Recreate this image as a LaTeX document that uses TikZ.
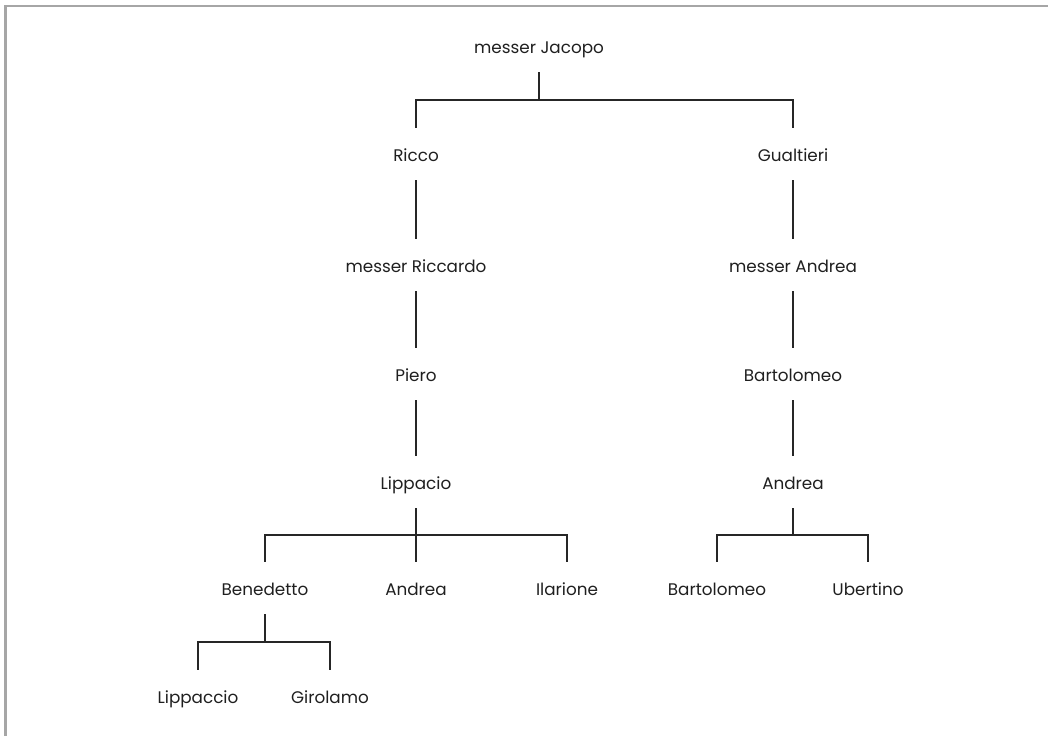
\documentclass[tikz,border=0pt]{standalone}
\usepackage{fontspec}
\setmainfont{Poppins}
\usetikzlibrary{calc}
\begin{document}
\begin{tikzpicture}[x=1pt,y=-1pt,
  person/.style={anchor=base,text height=14pt,text depth=0pt,inner ysep=19pt,inner xsep=0pt,
    font=\fontsize{16.8}{19}\selectfont,text=black!88},
  link/.style={line width=1.3pt,black!85},
  fork/.style={link}]
\useasboundingbox (0,0) rectangle (1048,736);
\draw[line width=2.2pt,black!35] (5.5,736) -- (5.5,6) -- (1048,6);
\node[person] (jacopo) at (539,53) {messer Jacopo};
\node[person] (ricco) at (416,161) {Ricco};
\node[person] (gualtieri) at (793,161) {Gualtieri};
\node[person] (riccardo) at (416,272) {messer Riccardo};
\node[person] (mandrea) at (793,272) {messer Andrea};
\node[person] (piero) at (416,381) {Piero};
\node[person] (bart1) at (793,381) {Bartolomeo};
\node[person] (lippacio) at (416,489) {Lippacio};
\node[person] (andrea1) at (793,489) {Andrea};
\node[person] (benedetto) at (265,595) {Benedetto};
\node[person] (andrea2) at (416,595) {Andrea};
\node[person] (ilarione) at (567,595) {Ilarione};
\node[person] (bart2) at (717,595) {Bartolomeo};
\node[person] (ubertino) at (868,595) {Ubertino};
\node[person] (lippaccio) at (198,703) {Lippaccio};
\node[person] (girolamo) at (330,703) {Girolamo};
% forks
\foreach \p/\c in {jacopo/ricco,jacopo/gualtieri,lippacio/benedetto,lippacio/andrea2,lippacio/ilarione,
  andrea1/bart2,andrea1/ubertino,benedetto/lippaccio,benedetto/girolamo}
  \draw[fork] (\p.south) -- ($(\p.south)!.5!(\p.south|-\c.north)$) -| (\c.north);
% chains
\foreach \p/\c in {ricco/riccardo,riccardo/piero,piero/lippacio,gualtieri/mandrea,mandrea/bart1,bart1/andrea1}
  \draw[link] (\p.south) -- (\c.north);
\end{tikzpicture}
\end{document}
